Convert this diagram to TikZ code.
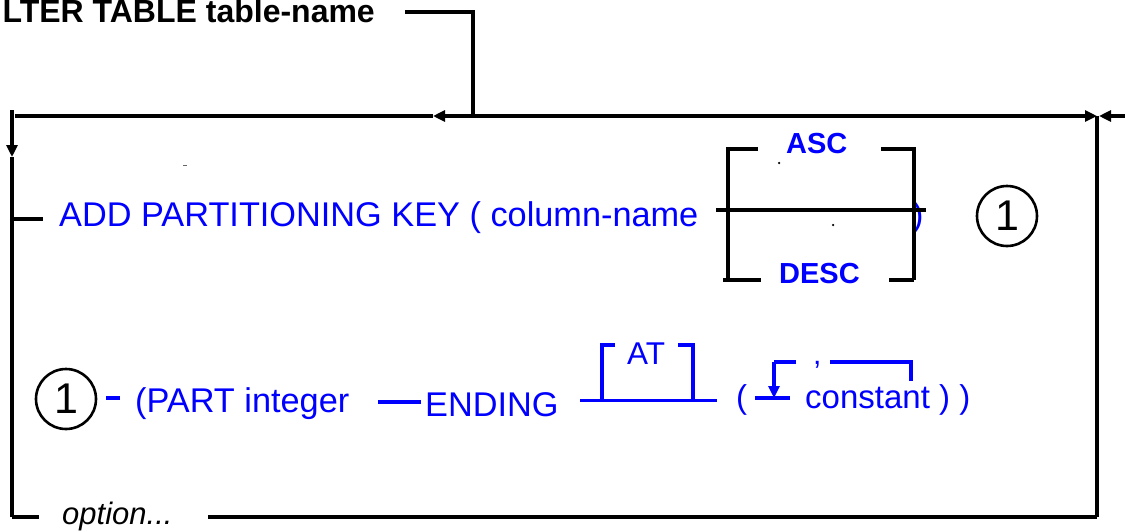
\documentclass[tikz,border=0pt]{standalone}
\usepackage{fontspec}
\setmainfont{Liberation Sans}
\usetikzlibrary{arrows.meta}
\begin{document}
\begin{tikzpicture}[x=1pt,y=-1pt,
  ln/.style={line width=3.2pt, draw=black},
  bl/.style={line width=3.2pt, draw=blue},
  arr/.style={-{Triangle[length=12pt,width=11pt]}},
  btxt/.style={inner sep=0pt, anchor=base west, text=blue, font=\fontsize{34.3}{36}\selectfont},
  kw/.style={inner sep=0pt, anchor=base west, text=blue, font=\fontsize{29}{32}\selectfont\bfseries},
  num/.style={circle, draw=black, line width=2.6pt, minimum size=60pt, inner sep=0pt, font=\fontsize{43}{43}\selectfont},
  dot/.style={circle, fill=black, inner sep=0pt, minimum size=2.5pt}
]
\useasboundingbox (0,0) rectangle (1125,531);
\clip (0,0) rectangle (1125,531);

% title
\node[inner sep=0pt, anchor=base east, font=\fontsize{32}{34}\selectfont\bfseries] (title) at (375,22) {LTER TABLE table-name};
\coordinate (t1) at (405,12);
\coordinate (t2) at (473,12);
\coordinate (join) at (473,116);
\draw[ln] (t1) -- (t2) -- (join);

% main line
\coordinate (la) at (433,116);
\coordinate (ml) at (15,116);
\coordinate (mr) at (1097,116);
\coordinate (rin) at (1125,116);
\coordinate (rtip) at (1099,116);
\draw[ln, arr] (join) -- (la);
\draw[ln] (la) -- (ml);
\draw[ln, arr] (join) -- (mr);
\draw[ln, arr] (rin) -- (rtip);

% left and right verticals
\coordinate (lt) at (12,110);
\coordinate (ld) at (12,157);
\coordinate (lb) at (12,517);
\coordinate (rb) at (1097,517);
\draw[ln, arr] (lt) -- (ld);
\draw[ln] (ld) -- (lb);
\draw[ln] (mr) -- (rb);

% tiny marks
\draw[line width=1pt, black!60] (183,165) -- (187,165);
\node[dot] (d1) at (779,163) {};
\node[dot] (d2) at (833,225) {};

% row 1
\coordinate (s1a) at (12,219);
\coordinate (s1b) at (43,219);
\draw[ln] (s1a) -- (s1b);
\node[btxt] (add) at (59,226) {ADD PARTITIONING KEY ( column-name};
\node[btxt] (rp) at (912,226) {)};
\node[kw] (asc) at (786,153) {ASC};
\node[kw] (desc) at (779,283) {DESC};
\coordinate (ma) at (716,210);
\coordinate (mb) at (926,210);
\draw[ln] (ma) -- (mb);
\draw[ln] (758,149) -- (728,149) -- (728,282);
\draw[ln] (881,149) -- (914,149) -- (914,280);
\draw[ln] (723,280) -- (761,280);
\draw[ln] (889,280) -- (914,280);
\node[num] (n1) at (1007,216) {1};

% row 2
\node[num] (n2) at (66,399) {1};
\coordinate (h1) at (106,398);
\coordinate (h2) at (120,398);
\draw[bl] (h1) -- (h2);
\node[btxt] (part) at (135,412) {(PART integer};
\coordinate (e1) at (378,402);
\coordinate (e2) at (421,402);
\draw[bl] (e1) -- (e2);
\node[btxt] (ending) at (425,416) {ENDING};
\coordinate (a1) at (580,400.5);
\coordinate (a2) at (717,400.5);
\draw[bl] (a1) -- (a2);
\draw[bl] (615,345) -- (602,345) -- (602,400.5);
\draw[bl] (678,345) -- (693,345) -- (693,400.5);
\node[inner sep=0pt, anchor=base west, text=blue, font=\fontsize{31.5}{33}\selectfont] (at) at (627,364) {AT};
\node[btxt, font=\fontsize{33}{35}\selectfont] (lp) at (736,408) {(};
\coordinate (r1) at (755,398);
\coordinate (r2) at (790,398);
\draw[bl] (r1) -- (r2);
\coordinate (rt) at (774,362);
\coordinate (rd) at (774,398);
\draw[bl] (796,362) -- (rt);
\draw[bl, arr] (rt) -- (rd);
\node[btxt, font=\fontsize{30}{32}\selectfont] (comma) at (813,364) {,};
\draw[bl] (830,362) -- (911,362) -- (911,381);
\node[btxt, font=\fontsize{33}{35}\selectfont] (const) at (805,408) {constant ) )};

% bottom row
\coordinate (s3) at (39,517);
\draw[ln] (lb) -- (s3);
\node[inner sep=0pt, anchor=base west, font=\fontsize{31}{33}\selectfont\itshape] (opt) at (62,524) {option...};
\coordinate (b1) at (208,517);
\draw[ln] (b1) -- (rb);
\end{tikzpicture}
\end{document}
